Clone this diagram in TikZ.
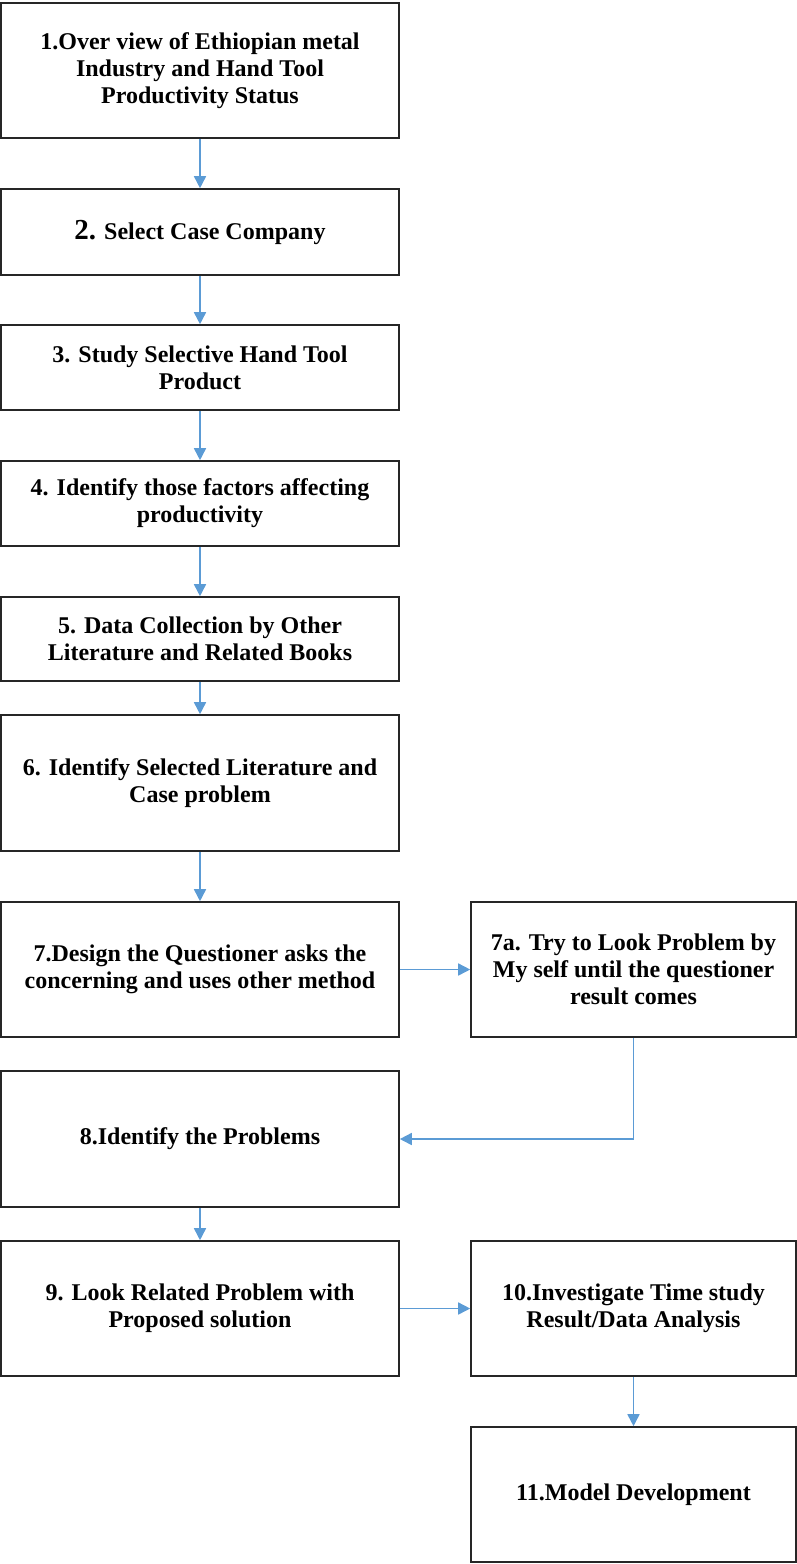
\documentclass[tikz,border=0pt]{standalone}
\usepackage{fontspec}
\setmainfont{Liberation Serif}
\usetikzlibrary{arrows.meta}
\definecolor{flowblue}{HTML}{5B9BD5}
\tikzset{
  stepbox/.style={draw=black!85, line width=1.6pt, fill=white, align=center,
    inner sep=0pt, font=\fontsize{24}{27}\selectfont\bfseries},
  leftcol/.style={stepbox, minimum width=398pt},
  rightcol/.style={stepbox, minimum width=325pt},
  flow/.style={draw=flowblue, line width=1.6pt, -{Triangle[length=12pt,width=12pt]}}
}
\begin{document}
\begin{tikzpicture}[x=1pt,y=-1pt]
\useasboundingbox (0,0) rectangle (797,1564);
% left column
\node[leftcol, minimum height=135pt] (b1) at (200,70.5)
  {1.Over view of Ethiopian metal\\Industry and Hand Tool\\Productivity Status};
\node[leftcol, minimum height=86pt] (b2) at (200,232)
  {{\fontsize{29}{30}\selectfont 2.} Select Case Company};
\node[leftcol, minimum height=85pt] (b3) at (200,367.5)
  {3. Study Selective Hand Tool\\Product};
\node[leftcol, minimum height=85pt] (b4) at (200,503.5)
  {4. Identify those factors affecting\\productivity};
\node[leftcol, minimum height=84pt] (b5) at (200,639)
  {5. Data Collection by Other\\Literature and Related Books};
\node[leftcol, minimum height=136pt] (b6) at (200,783)
  {6. Identify Selected Literature and\\Case problem};
\node[leftcol, minimum height=135pt] (b7) at (200,969.5)
  {7.Design the Questioner asks the\\concerning and uses other method};
\node[leftcol, minimum height=136pt] (b8) at (200,1139)
  {8.Identify the Problems};
\node[leftcol, minimum height=135pt] (b9) at (200,1308.5)
  {9. Look Related Problem with\\Proposed solution};
% right column
\node[rightcol, minimum height=135pt] (b7a) at (633.5,969.5)
  {7a. Try to Look Problem by\\My self until the questioner\\result comes};
\node[rightcol, minimum height=135pt] (b10) at (633.5,1308.5)
  {10.Investigate Time study\\Result/Data Analysis};
\node[rightcol, minimum height=135pt] (b11) at (633.5,1494.5)
  {11.Model Development};
% connectors
\draw[flow] (b1) -- (b2);
\draw[flow] (b2) -- (b3);
\draw[flow] (b3) -- (b4);
\draw[flow] (b4) -- (b5);
\draw[flow] (b5) -- (b6);
\draw[flow] (b6) -- (b7);
\draw[flow] (b7) -- (b7a);
\draw[flow] (b7a.south) |- (b8.east);
\draw[flow] (b8) -- (b9);
\draw[flow] (b9) -- (b10);
\draw[flow] (b10) -- (b11);
\end{tikzpicture}
\end{document}
